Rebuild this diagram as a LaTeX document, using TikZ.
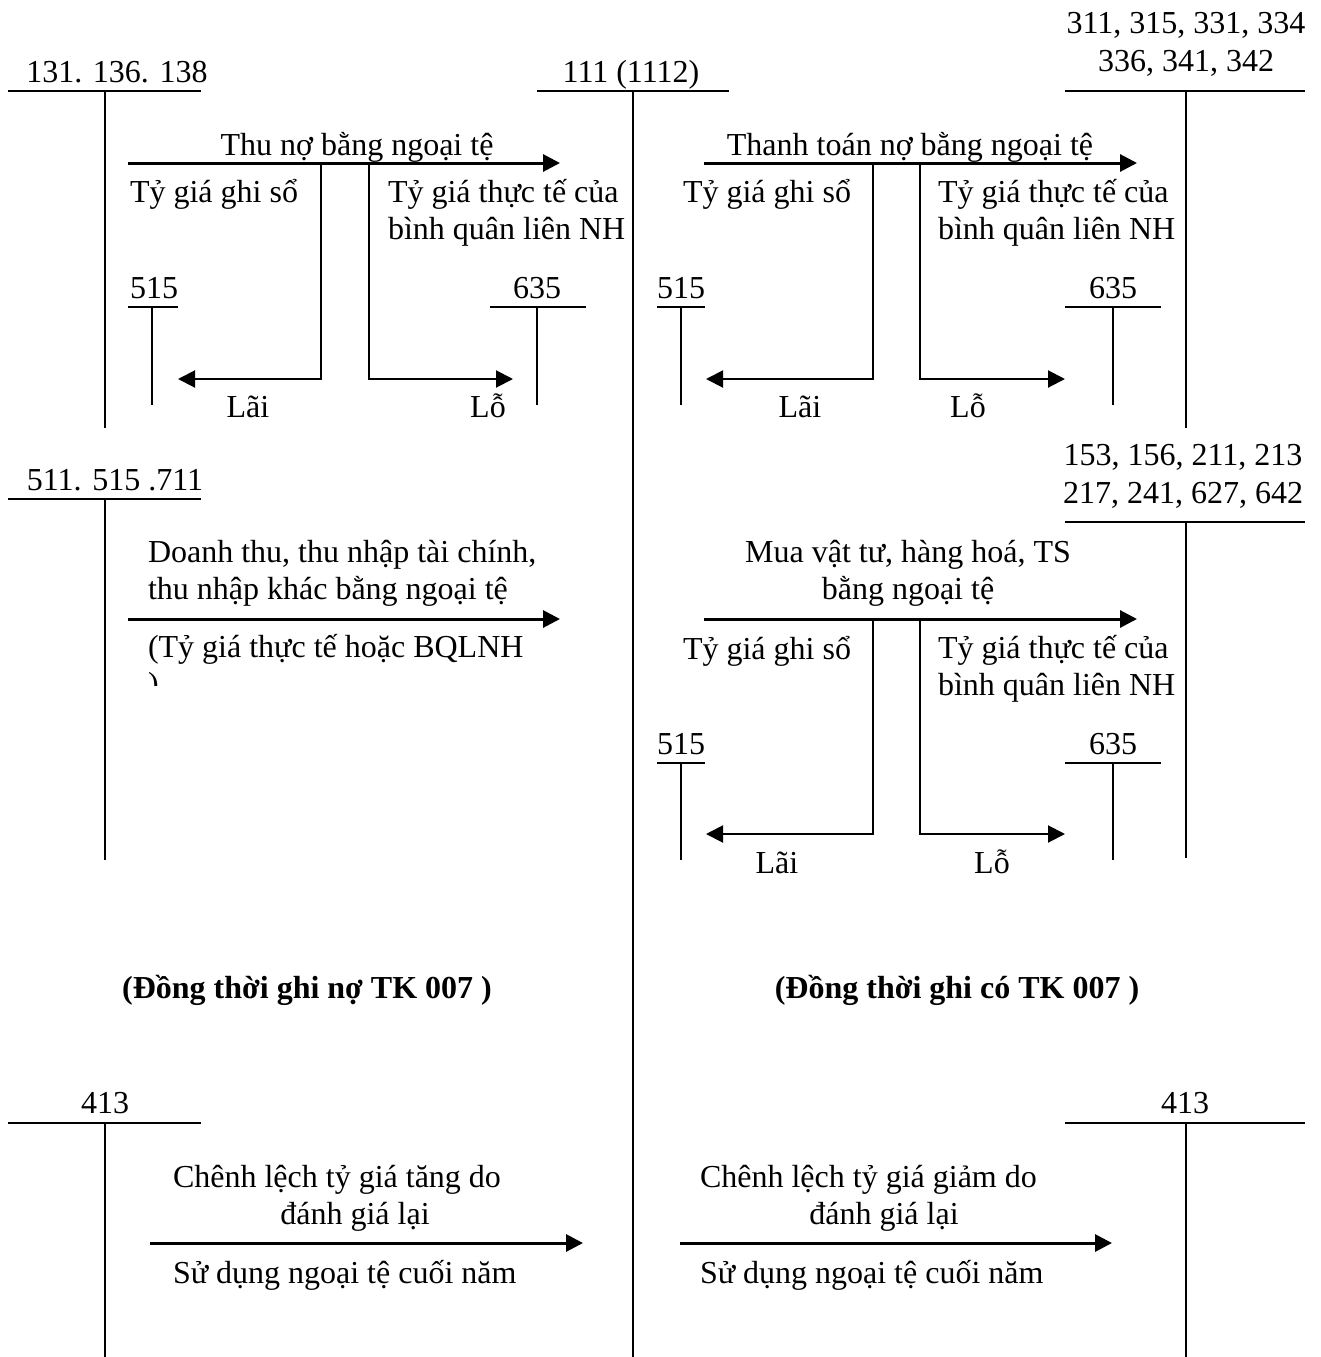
\documentclass[tikz,border=0pt]{standalone}
\usepackage{fontspec}
\setmainfont{Liberation Serif}
\usetikzlibrary{arrows.meta}
\newcommand\diafont{\fontsize{32}{37.5}\selectfont}
\begin{document}
\begin{tikzpicture}[x=1pt,y=-1pt,
  every node/.style={font=\diafont,inner sep=0pt,outer sep=0pt},
  lbl/.style={anchor=base west},
  clbl/.style={anchor=base},
  bold/.style={anchor=base,font=\diafont\bfseries},
  tline/.style={line width=1.6pt},
  flow/.style={line width=3pt,-{Triangle[length=17pt,width=17pt]}},
  branch/.style={line width=2pt,-{Triangle[length=17pt,width=17pt]}}]
\useasboundingbox (0,0) rectangle (1321,1357);

% ---------- T accounts, top row ----------
\node[clbl] (t131) at (117,82) {131. 136. 138};
\coordinate (a131l) at (8,91); \coordinate (a131r) at (201,91);
\coordinate (a131t) at (105,91); \coordinate (a131b) at (105,428);
\draw[tline] (a131l) -- (a131r); \draw[tline] (a131t) -- (a131b);

\node[clbl] (t111) at (631,82) {111 (1112)};
\coordinate (a111l) at (537,91); \coordinate (a111r) at (729,91);
\coordinate (a111t) at (633,91); \coordinate (a111b) at (633,1357);
\draw[tline] (a111l) -- (a111r); \draw[tline] (a111t) -- (a111b);

\node[clbl] (t311a) at (1186,33) {311, 315, 331, 334};
\node[clbl] (t311b) at (1186,71) {336, 341, 342};
\coordinate (a311l) at (1065,91); \coordinate (a311r) at (1305,91);
\coordinate (a311t) at (1186,91); \coordinate (a311b) at (1186,428);
\draw[tline] (a311l) -- (a311r); \draw[tline] (a311t) -- (a311b);

% ---------- Block 1 ----------
\node[clbl] (thuno) at (357,155) {Thu nợ bằng ngoại tệ};
\coordinate (f1s) at (128,163); \coordinate (f1e) at (560,163);
\draw[flow] (f1s) -- (f1e);
\node[lbl] (b1gs) at (130,202) {Tỷ giá ghi sổ};
\node[lbl] (b1tt) at (388,202) {Tỷ giá thực tế của};
\node[lbl] (b1bq) at (388,239.5) {bình quân liên NH};
\coordinate (b1l0) at (321,163); \coordinate (b1l1) at (321,379); \coordinate (b1l2) at (178,379);
\coordinate (b1r0) at (369,163); \coordinate (b1r1) at (369,379); \coordinate (b1r2) at (513,379);
\draw[branch] (b1l0) -- (b1l1) -- (b1l2);
\draw[branch] (b1r0) -- (b1r1) -- (b1r2);
\node[lbl] (b1n515) at (130,298) {515};
\coordinate (b1u1) at (128,307); \coordinate (b1u2) at (178,307);
\coordinate (b1v1) at (152,307); \coordinate (b1v2) at (152,405);
\draw[tline] (b1u1) -- (b1u2); \draw[tline] (b1v1) -- (b1v2);
\node[clbl] (b1n635) at (537,298) {635};
\coordinate (b1w1) at (490,307); \coordinate (b1w2) at (586,307);
\coordinate (b1x1) at (537,307); \coordinate (b1x2) at (537,405);
\draw[tline] (b1w1) -- (b1w2); \draw[tline] (b1x1) -- (b1x2);
\node[clbl] (b1lai) at (248,417) {Lãi};
\node[clbl] (b1lo) at (488,417) {Lỗ};

% ---------- Block 2 ----------
\node[clbl] (ttno) at (910,155) {Thanh toán nợ bằng ngoại tệ};
\coordinate (f2s) at (704,163); \coordinate (f2e) at (1137,163);
\draw[flow] (f2s) -- (f2e);
\node[lbl] (b2gs) at (683,202) {Tỷ giá ghi sổ};
\node[lbl] (b2tt) at (938,202) {Tỷ giá thực tế của};
\node[lbl] (b2bq) at (938,239.5) {bình quân liên NH};
\coordinate (b2l0) at (873,163); \coordinate (b2l1) at (873,379); \coordinate (b2l2) at (706,379);
\coordinate (b2r0) at (920,163); \coordinate (b2r1) at (920,379); \coordinate (b2r2) at (1065,379);
\draw[branch] (b2l0) -- (b2l1) -- (b2l2);
\draw[branch] (b2r0) -- (b2r1) -- (b2r2);
\node[lbl] (b2n515) at (657,298) {515};
\coordinate (b2u1) at (657,307); \coordinate (b2u2) at (705,307);
\coordinate (b2v1) at (681,307); \coordinate (b2v2) at (681,405);
\draw[tline] (b2u1) -- (b2u2); \draw[tline] (b2v1) -- (b2v2);
\node[clbl] (b2n635) at (1113,298) {635};
\coordinate (b2w1) at (1065,307); \coordinate (b2w2) at (1161,307);
\coordinate (b2x1) at (1113,307); \coordinate (b2x2) at (1113,405);
\draw[tline] (b2w1) -- (b2w2); \draw[tline] (b2x1) -- (b2x2);
\node[clbl] (b2lai) at (800,417) {Lãi};
\node[clbl] (b2lo) at (968,417) {Lỗ};

% ---------- Block 3 ----------
\node[clbl] (t511) at (115,490) {511. 515 .711};
\coordinate (a511l) at (8,499); \coordinate (a511r) at (201,499);
\coordinate (a511t) at (105,499); \coordinate (a511b) at (105,860);
\draw[tline] (a511l) -- (a511r); \draw[tline] (a511t) -- (a511b);
\node[lbl] (dt1) at (148,562) {Doanh thu, thu nhập tài chính,};
\node[lbl] (dt2) at (148,599) {thu nhập khác bằng ngoại tệ};
\coordinate (f3s) at (128,619); \coordinate (f3e) at (560,619);
\draw[flow] (f3s) -- (f3e);
\node[lbl] (dt3) at (148,657) {(Tỷ giá thực tế hoặc BQLNH};
\begin{scope}
\clip (140,670) rectangle (175,685);
\node[lbl] (dt4) at (148,694.5) {)};
\end{scope}

% ---------- Block 4 ----------
\node[clbl] (t153a) at (1183,465) {153, 156, 211, 213};
\node[clbl] (t153b) at (1183,503) {217, 241, 627, 642};
\coordinate (a153l) at (1065,522); \coordinate (a153r) at (1305,522);
\coordinate (a153t) at (1186,522); \coordinate (a153b) at (1186,858);
\draw[tline] (a153l) -- (a153r); \draw[tline] (a153t) -- (a153b);
\node[clbl] (mua1) at (908,562) {Mua vật tư, hàng hoá, TS};
\node[clbl] (mua2) at (908,599) {bằng ngoại tệ};
\coordinate (f4s) at (704,619); \coordinate (f4e) at (1137,619);
\draw[flow] (f4s) -- (f4e);
\node[lbl] (b4gs) at (683,659) {Tỷ giá ghi sổ};
\node[lbl] (b4tt) at (938,658) {Tỷ giá thực tế của};
\node[lbl] (b4bq) at (938,695.5) {bình quân liên NH};
\coordinate (b4l0) at (873,619); \coordinate (b4l1) at (873,834); \coordinate (b4l2) at (706,834);
\coordinate (b4r0) at (920,619); \coordinate (b4r1) at (920,834); \coordinate (b4r2) at (1065,834);
\draw[branch] (b4l0) -- (b4l1) -- (b4l2);
\draw[branch] (b4r0) -- (b4r1) -- (b4r2);
\node[lbl] (b4n515) at (657,754) {515};
\coordinate (b4u1) at (657,763); \coordinate (b4u2) at (705,763);
\coordinate (b4v1) at (681,763); \coordinate (b4v2) at (681,860);
\draw[tline] (b4u1) -- (b4u2); \draw[tline] (b4v1) -- (b4v2);
\node[clbl] (b4n635) at (1113,754) {635};
\coordinate (b4w1) at (1065,763); \coordinate (b4w2) at (1161,763);
\coordinate (b4x1) at (1113,763); \coordinate (b4x2) at (1113,860);
\draw[tline] (b4w1) -- (b4w2); \draw[tline] (b4x1) -- (b4x2);
\node[clbl] (b4lai) at (777,873) {Lãi};
\node[clbl] (b4lo) at (992,873) {Lỗ};

% ---------- Notes ----------
\node[bold] (note1) at (307,998) {(Đồng thời ghi nợ TK 007 )};
\node[bold] (note2) at (957,998) {(Đồng thời ghi có TK 007 )};

% ---------- Bottom ----------
\node[clbl] (t413l) at (105,1113) {413};
\coordinate (a413l) at (8,1123); \coordinate (a413r) at (201,1123);
\coordinate (a413t) at (105,1123); \coordinate (a413b) at (105,1357);
\draw[tline] (a413l) -- (a413r); \draw[tline] (a413t) -- (a413b);
\node[lbl] (cl1) at (173,1187) {Chênh lệch tỷ giá tăng do};
\node[clbl] (cl2) at (355,1224) {đánh giá lại};
\coordinate (f5s) at (150,1243); \coordinate (f5e) at (583,1243);
\draw[flow] (f5s) -- (f5e);
\node[lbl] (sd1) at (173,1283) {Sử dụng ngoại tệ cuối năm};

\node[clbl] (t413r) at (1185,1113) {413};
\coordinate (c413l) at (1065,1123); \coordinate (c413r) at (1305,1123);
\coordinate (c413t) at (1186,1123); \coordinate (c413b) at (1186,1357);
\draw[tline] (c413l) -- (c413r); \draw[tline] (c413t) -- (c413b);
\node[lbl] (cr1) at (700,1187) {Chênh lệch tỷ giá giảm do};
\node[clbl] (cr2) at (884,1224) {đánh giá lại};
\coordinate (f6s) at (680,1243); \coordinate (f6e) at (1112,1243);
\draw[flow] (f6s) -- (f6e);
\node[lbl] (sd2) at (700,1283) {Sử dụng ngoại tệ cuối năm};
\end{tikzpicture}
\end{document}
